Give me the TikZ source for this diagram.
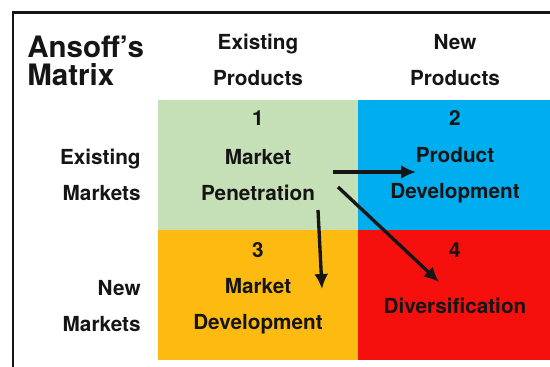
\documentclass[tikz,border=0pt]{standalone}
\usepackage{fontspec}
\setmainfont{TeX Gyre Heros}
\usepackage{tikz}
\usetikzlibrary{arrows.meta,positioning}
\definecolor{Ink}{HTML}{151515}
\definecolor{MPGreen}{HTML}{C5DFB6}
\definecolor{PDBlue}{HTML}{00AEEF}
\definecolor{MDOrange}{HTML}{FDBB12}
\definecolor{DVRed}{HTML}{F5100E}
\tikzset{
  cell/.style={draw=none},
  label/.style={align=center,text=Ink,font=\bfseries\fontsize{11.8}{20.5}\selectfont,inner sep=0pt},
  rowlabel/.style={label,align=right,anchor=east},
  number/.style={label},
  arrow/.style={-{Latex[length=3mm,width=2.8mm]},line width=1.9pt,draw=Ink}
}
\begin{document}
\begin{tikzpicture}[x=0.02cm,y=0.02cm]
  \useasboundingbox (0,0) rectangle (550,367);
  \clip (0,0) rectangle (550,367);
  \fill[white] (0,0) rectangle (550,367);
  % outer frame, runs off the right and bottom edges
  \draw[line width=1.7pt,draw=Ink] (13,-10) -- (13,354) -- (570,354);

  % the four quadrants
  \fill[cell,MPGreen] (158,137) rectangle (358,267);
  \fill[cell,PDBlue] (358,137) rectangle (570,267);
  \fill[cell,MDOrange] (158,7) rectangle (358,137);
  \fill[cell,DVRed] (358,7) rectangle (570,137);

  % title and axis headings
  \node[align=left,anchor=west,text=Ink,inner sep=0pt,font=\bfseries\fontsize{16.8}{16}\selectfont] (title) at (27,306) {Ansoff’s\\Matrix};
  \node[label] (hexist) at (258,307) {Existing\\Products};
  \node[label] (hnew) at (455,307) {New\\Products};
  \node[rowlabel] (rexist) at (141,192.5) {Existing\\Markets};
  \node[rowlabel] (rnew) at (141,61) {New\\Markets};

  % quadrant texts
  \node[number] (n1) at (258,249) {1};
  \node[label] (pen) at (258,192) {Market\\Penetration};
  \node[number] (n2) at (455,249) {2};
  \node[label] (prod) at (455,192) {Product\\Development};
  \node[number] (n3) at (258,117) {3};
  \node[label] (mdev) at (258,60.5) {Market\\Development};
  \node[number] (n4) at (455,117) {4};
  \node[label] (div) at (455,61) {Diversification};

  % moves out of market penetration
  \coordinate (hStart) at (333,195);
  \coordinate (hEnd) at (416,195);
  \coordinate (vStart) at (318,157);
  \coordinate (vEnd) at (322,78);
  \coordinate (dStart) at (338,180);
  \coordinate (dEnd) at (439,85);
  \draw[arrow] (hStart) -- (hEnd);
  \draw[arrow] (vStart) -- (vEnd);
  \draw[arrow] (dStart) -- (dEnd);
\end{tikzpicture}
\end{document}
